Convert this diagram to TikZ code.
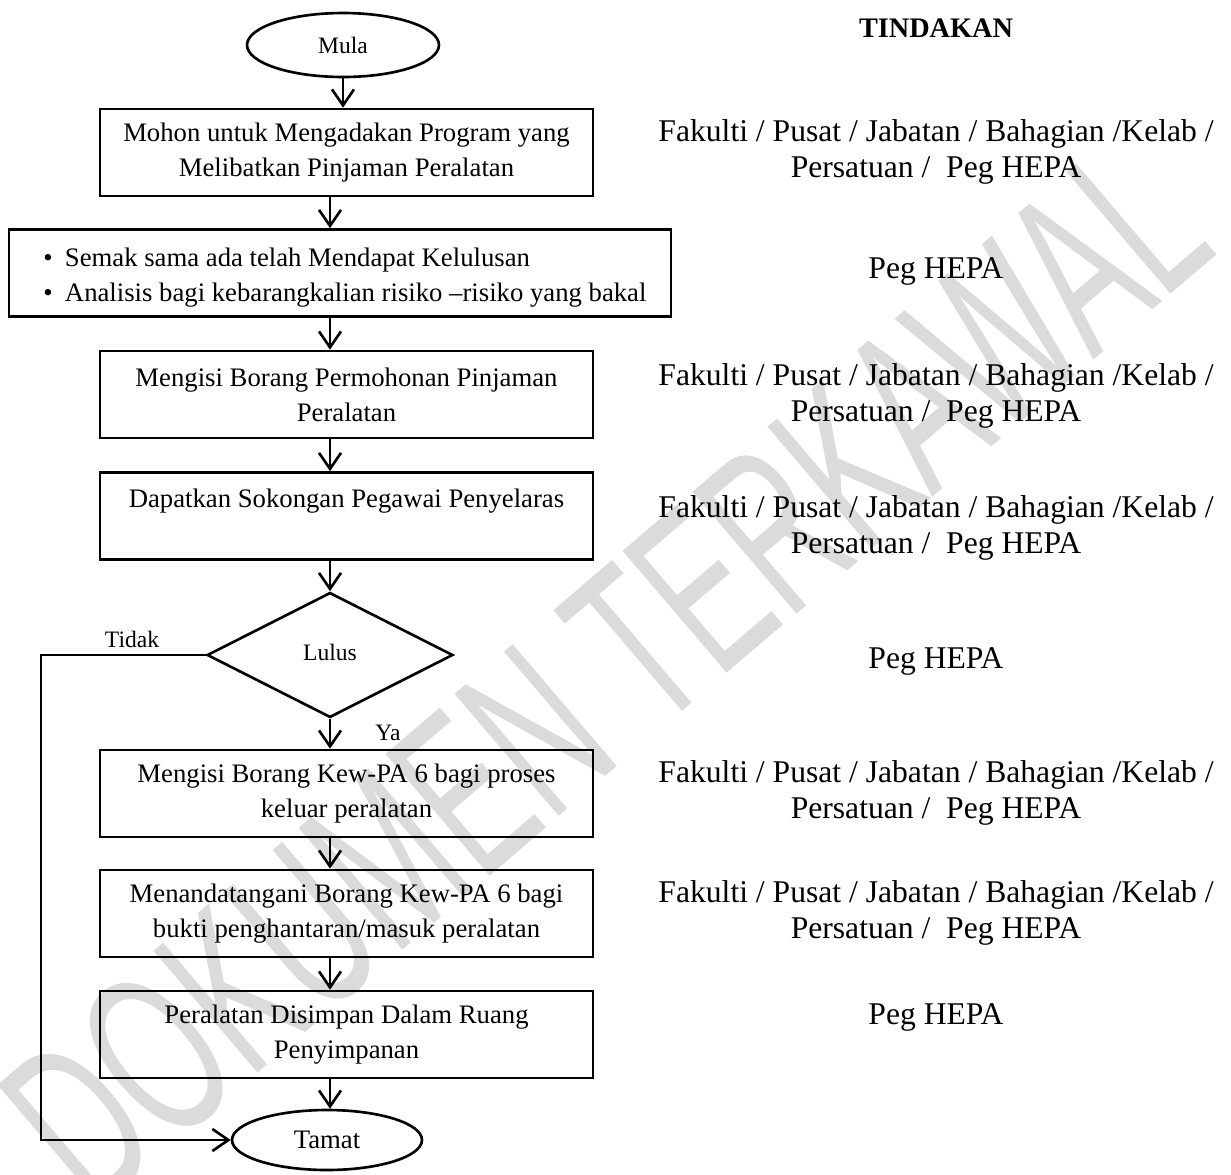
\documentclass[tikz,border=0pt]{standalone}
\usepackage{fontspec}
\setmainfont{Liberation Serif}
\newfontfamily\markfont{Liberation Sans}
\usetikzlibrary{shapes.geometric,arrows.meta}

\begin{document}
\begin{tikzpicture}[x=0.02cm,y=-0.02cm,
    flow/.style={line width=1.5pt},
    stepbox/.style={flow,draw,rectangle,minimum width=9.86cm,minimum height=1.74cm,
      inner sep=0pt,align=center,font=\fontsize{15.2}{19.9}\selectfont},
    endcap/.style={flow,draw,ellipse,inner sep=0pt},
    choice/.style={flow,draw,diamond,aspect=2,inner sep=0pt,minimum width=4.92cm,
      minimum height=2.5cm,font=\fontsize{13.4}{16}\selectfont},
    who/.style={align=center,inner sep=0pt,font=\fontsize{18}{20.5}\selectfont},
    tag/.style={inner sep=0pt,font=\fontsize{13.4}{16}\selectfont},
    go/.style={flow,-{Straight Barb[length=0.32cm,width=0.44cm]}}]
    \useasboundingbox (0,0) rectangle (1231,1174);

    % Watermark
    \node[rotate=40.5,yscale=1.7,text=black!14,font=\markfont\fontsize{78}{78}\selectfont] (mark) at (605,672) {DOKUMEN TERKAWAL};

    % Start and end
    \node[endcap,minimum width=3.84cm,minimum height=1.28cm,font=\fontsize{13.4}{16}\selectfont] (mula) at (343,45) {Mula};
    \node[endcap,minimum width=3.8cm,minimum height=1.2cm,font=\fontsize{15.2}{18}\selectfont] (tamat) at (327,1140) {Tamat};

    % Steps
    \node[stepbox] (mohon) at (346.5,152.5) {Mohon untuk Mengadakan Program yang\\Melibatkan Pinjaman Peralatan};
    \node[stepbox,minimum width=13.24cm] (semak) at (340,273) {};
    \begin{scope}
      \clip (9,229) rectangle (671,306);
      \node[anchor=west,align=left,inner sep=0pt,font=\fontsize{15.2}{19.9}\selectfont] (semaktxt) at (43,277.5)
        {\textbullet\hspace{7pt}Semak sama ada telah Mendapat Kelulusan\\\textbullet\hspace{7pt}Analisis bagi kebarangkalian risiko –risiko yang bakal};
    \end{scope}
    \node[stepbox] (isi) at (346.5,394.5) {Mengisi Borang Permohonan Pinjaman\\Peralatan};
    \node[stepbox] (sokong) at (346.5,516) {Dapatkan Sokongan Pegawai Penyelaras\\~};
    \node[choice] (lulus) at (330,655) {\raisebox{3.4pt}{Lulus}};
    \node[stepbox] (keluar) at (346.5,793.5) {Mengisi Borang Kew-PA 6 bagi proses\\keluar peralatan};
    \node[stepbox] (masuk) at (346.5,913.5) {Menandatangani Borang Kew-PA 6 bagi\\bukti penghantaran/masuk peralatan};
    \node[stepbox] (simpan) at (346.5,1034.5) {Peralatan Disimpan Dalam Ruang\\Penyimpanan};

    % Connectors
    \draw[go] (mula.south) -- (mula.south |- mohon.north);
    \draw[go] (mohon.south -| lulus) -- (semak.north -| lulus);
    \draw[go] (semak.south -| lulus) -- (isi.north -| lulus);
    \draw[go] (isi.south -| lulus) -- (sokong.north -| lulus);
    \draw[go] (sokong.south -| lulus) -- (lulus.north);
    \draw[go] (lulus.south) -- (keluar.north -| lulus);
    \draw[go] (keluar.south -| lulus) -- (masuk.north -| lulus);
    \draw[go] (masuk.south -| lulus) -- (simpan.north -| lulus);
    \draw[go] (simpan.south -| lulus) -- (tamat.north -| lulus);
    \coordinate (back) at (41,655);
    \draw[go] (lulus.west) -- (back) |- (tamat.west);

    % Labels
    \node[tag] (tidak) at (132,639) {Tidak};
    \node[tag] (ya) at (388,733) {Ya};

    % Actions column
    \node[inner sep=0pt,font=\bfseries\fontsize{16.1}{18}\selectfont] (tindakan) at (936,28) {TINDAKAN};
    \node[who] (who1) at (936,152) {Fakulti / Pusat / Jabatan / Bahagian /Kelab /\\Persatuan / \ Peg HEPA};
    \node[who] (who2) at (936,271) {Peg HEPA};
    \node[who] (who3) at (936,396) {Fakulti / Pusat / Jabatan / Bahagian /Kelab /\\Persatuan / \ Peg HEPA};
    \node[who] (who4) at (936,528) {Fakulti / Pusat / Jabatan / Bahagian /Kelab /\\Persatuan / \ Peg HEPA};
    \node[who] (who5) at (936,661) {Peg HEPA};
    \node[who] (who6) at (936,793) {Fakulti / Pusat / Jabatan / Bahagian /Kelab /\\Persatuan / \ Peg HEPA};
    \node[who] (who7) at (936,913) {Fakulti / Pusat / Jabatan / Bahagian /Kelab /\\Persatuan / \ Peg HEPA};
    \node[who] (who8) at (936,1017) {Peg HEPA};
\end{tikzpicture}
\end{document}
